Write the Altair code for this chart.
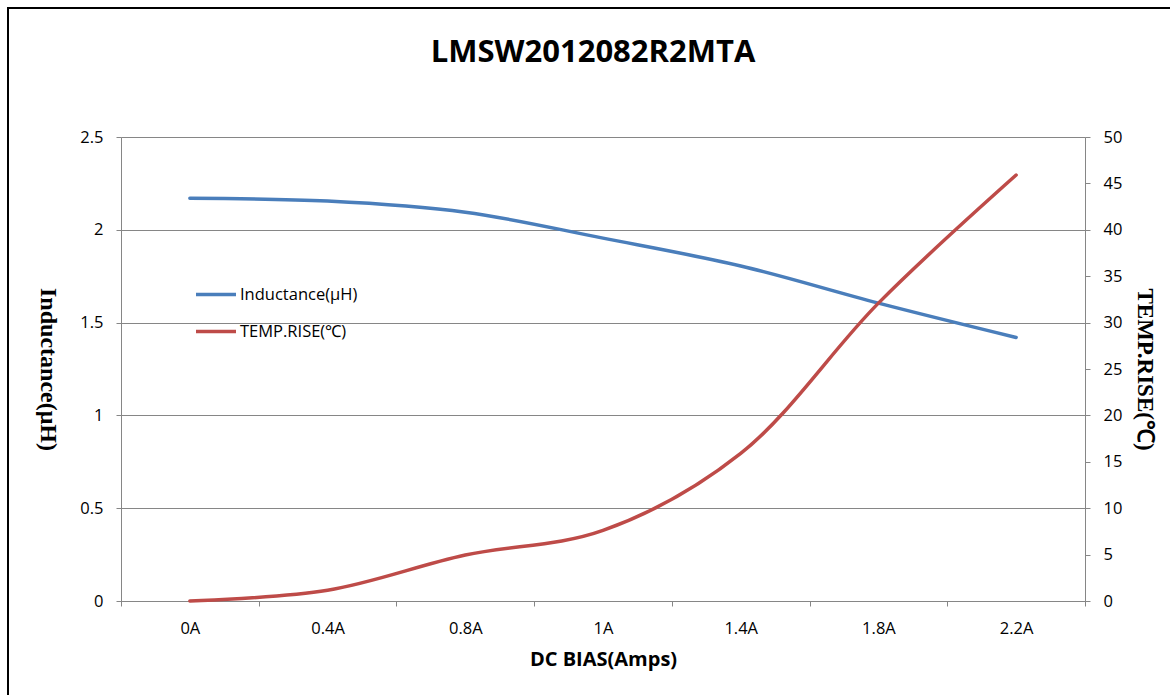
import altair as alt
import pandas as pd

categories = ["0A", "0.4A", "0.8A", "1A", "1.4A", "1.8A", "2.2A"]
inductance = [2.17, 2.155, 2.095, 1.955, 1.805, 1.605, 1.42]
temp_rise = [0.0, 1.15, 4.95, 7.6, 15.9, 32.1, 45.9]

s_ind = "Inductance(μH)"
s_tmp = "TEMP.RISE(℃)"

df_ind = pd.DataFrame({"cat": categories, "val": inductance, "series": s_ind})
df_tmp = pd.DataFrame({"cat": categories, "val": temp_rise, "series": s_tmp})

FONT = "Open Sans"
GRAY = "#868686"

color = alt.Color(
    "series:N",
    scale=alt.Scale(domain=[s_ind, s_tmp], range=["#4A7EBB", "#BE4B48"]),
    legend=alt.Legend(
        orient="none", legendX=73, legendY=150, title=None,
        symbolType="stroke", symbolSize=1600, symbolStrokeWidth=3.5,
        clipHeight=15, rowPadding=20, labelFontSize=16.5, labelFont=FONT,
        labelColor="#000", labelOffset=2, padding=0,
    ),
)

x = alt.X(
    "cat:N", sort=categories, bandPosition=0.5,
    scale=alt.Scale(type="band", paddingInner=0, paddingOuter=0),
    axis=alt.Axis(
        title="DC BIAS(Amps)", labelAngle=0, tickBand="extent", tickSize=5,
        labelPadding=14, labelFontSize=16.5, labelFont=FONT, labelColor="#000",
        domainColor=GRAY, tickColor=GRAY, grid=False,
        titleFont=FONT, titleFontSize=20, titleFontWeight="bold", titleColor="#000",
        titleBaseline="alphabetic", titleY=64,
    ),
)

left = alt.Chart(df_ind).mark_line(
    interpolate="catmull-rom", strokeWidth=3.5, strokeCap="round"
).encode(
    x=x,
    y=alt.Y(
        "val:Q", scale=alt.Scale(domain=[0, 2.5], nice=False),
        axis=alt.Axis(
            title=s_ind, values=[0, 0.5, 1, 1.5, 2, 2.5], format="~g",
            grid=True, gridColor=GRAY, tickSize=5, tickColor=GRAY, domainColor=GRAY,
            labelPadding=13, labelFontSize=16.5, labelFont=FONT, labelColor="#000",
            titleFont="Liberation Serif", titleFontSize=24, titleFontWeight="bold",
            titleColor="#000", titleAngle=90, titleX=-74, titleY=232,
            titleAlign="center", titleBaseline="middle",
        ),
    ),
    color=color,
)

right = alt.Chart(df_tmp).mark_line(
    interpolate="catmull-rom", strokeWidth=3.5, strokeCap="round"
).encode(
    x=x,
    y=alt.Y(
        "val:Q", scale=alt.Scale(domain=[0, 50], nice=False),
        axis=alt.Axis(
            title=s_tmp, orient="right", values=list(range(0, 51, 5)),
            grid=False, tickSize=5, tickColor=GRAY, domainColor=GRAY,
            labelPadding=13, labelFontSize=16.5, labelFont=FONT, labelColor="#000",
            titleFont="Liberation Serif", titleFontSize=23, titleFontWeight="bold",
            titleColor="#000", titleAngle=90, titleX=59, titleY=232,
            titleAlign="center", titleBaseline="middle",
        ),
    ),
    color=color,
)

chart = alt.layer(left, right).resolve_scale(y="independent", color="shared").properties(
    width=964, height=464,
    autosize=alt.AutoSizeParams(type="none"),
    padding={"left": 112, "top": 128, "right": 85, "bottom": 94},
    title=alt.TitleParams(
        "LMSW2012082R2MTA", font=FONT, fontSize=31, fontWeight="bold",
        color="#000", anchor="middle", baseline="alphabetic", offset=36, dx=-10,
    ),
).configure_view(stroke=None).configure(background="white")

chart.save("out.html", embed_options={"renderer": "svg", "actions": False})

with open("out.html", encoding="utf-8") as f:
    html = f.read()
html = html.replace(
    "</head>",
    "<style>body{margin:7px 0 0 7px;overflow:hidden}"
    "#vis{border-top:2px solid #000;border-left:2px solid #000;}</style></head>",
    1,
)
with open("out.html", "w", encoding="utf-8") as f:
    f.write(html)
